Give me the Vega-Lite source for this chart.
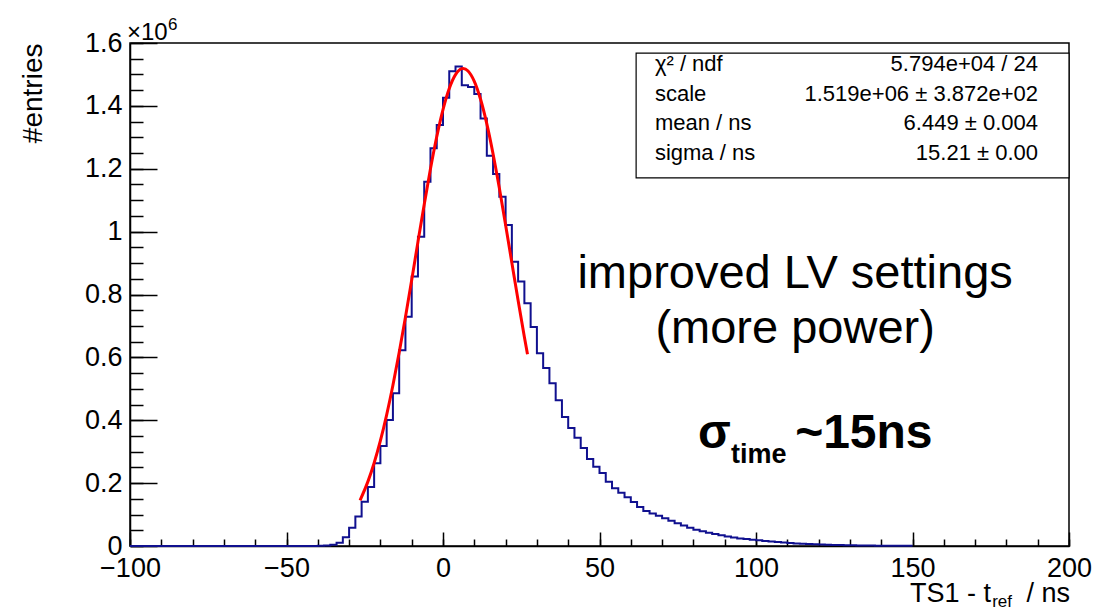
{
  "$schema": "https://vega.github.io/schema/vega-lite/v6.json",
  "width": 939,
  "height": 503,
  "autosize": {"type": "none"},
  "padding": {"left": 130, "top": 43, "right": 26, "bottom": 65},
  "background": "white",
  "data": {"values": [{}]},
  "config": {
    "font": "Liberation Sans",
    "view": {"stroke": "black", "strokeWidth": 1.5},
    "axis": {
      "grid": false,
      "domainColor": "black",
      "domainWidth": 1.5,
      "tickColor": "black",
      "tickWidth": 1.5,
      "labelColor": "black",
      "labelFont": "Liberation Sans",
      "titleFont": "Liberation Sans",
      "titleColor": "black",
      "labelFlush": false,
      "labelOverlap": false,
      "labelBound": false
    },
    "text": {"font": "Liberation Sans", "color": "black"}
  },
  "datasets": {
    "hist": [
      {"t": -100, "n": 0}, {"t": -98, "n": 0}, {"t": -96, "n": 0}, {"t": -94, "n": 0}, {"t": -92, "n": 0},
      {"t": -90, "n": 0}, {"t": -88, "n": 0}, {"t": -86, "n": 0}, {"t": -84, "n": 0}, {"t": -82, "n": 0},
      {"t": -80, "n": 0}, {"t": -78, "n": 0}, {"t": -76, "n": 0}, {"t": -74, "n": 0}, {"t": -72, "n": 0},
      {"t": -70, "n": 0}, {"t": -68, "n": 0}, {"t": -66, "n": 0}, {"t": -64, "n": 0}, {"t": -62, "n": 0},
      {"t": -60, "n": 0}, {"t": -58, "n": 0}, {"t": -56, "n": 0}, {"t": -54, "n": 0}, {"t": -52, "n": 0},
      {"t": -50, "n": 0}, {"t": -48, "n": 0}, {"t": -46, "n": 0}, {"t": -44, "n": 0}, {"t": -42, "n": 100},
      {"t": -40, "n": 500}, {"t": -38, "n": 1500}, {"t": -36, "n": 4000}, {"t": -34, "n": 10000}, {"t": -32, "n": 28000},
      {"t": -30, "n": 58000}, {"t": -28, "n": 94000}, {"t": -26, "n": 141000}, {"t": -24, "n": 188000}, {"t": -22, "n": 263000},
      {"t": -20, "n": 318000}, {"t": -18, "n": 401000}, {"t": -16, "n": 486000}, {"t": -14, "n": 623000}, {"t": -12, "n": 729000},
      {"t": -10, "n": 857000}, {"t": -8, "n": 984000}, {"t": -6, "n": 1159000}, {"t": -4, "n": 1265000}, {"t": -2, "n": 1339000},
      {"t": 0, "n": 1426000}, {"t": 2, "n": 1510000}, {"t": 4, "n": 1525000}, {"t": 6, "n": 1466000}, {"t": 8, "n": 1460000},
      {"t": 10, "n": 1438000}, {"t": 12, "n": 1360000}, {"t": 14, "n": 1241000}, {"t": 16, "n": 1183000}, {"t": 18, "n": 1111000},
      {"t": 20, "n": 1021000}, {"t": 22, "n": 904000}, {"t": 24, "n": 841000}, {"t": 26, "n": 772000}, {"t": 28, "n": 697000},
      {"t": 30, "n": 613000}, {"t": 32, "n": 566000}, {"t": 34, "n": 518000}, {"t": 36, "n": 464000}, {"t": 38, "n": 410000},
      {"t": 40, "n": 375000}, {"t": 42, "n": 344000}, {"t": 44, "n": 312000}, {"t": 46, "n": 277000}, {"t": 48, "n": 252000},
      {"t": 50, "n": 232000}, {"t": 52, "n": 204000}, {"t": 54, "n": 184000}, {"t": 56, "n": 169000}, {"t": 58, "n": 155000},
      {"t": 60, "n": 140000}, {"t": 62, "n": 124000}, {"t": 64, "n": 111000}, {"t": 66, "n": 103000}, {"t": 68, "n": 96000},
      {"t": 70, "n": 88000}, {"t": 72, "n": 80000}, {"t": 74, "n": 72000}, {"t": 76, "n": 65000}, {"t": 78, "n": 58000},
      {"t": 80, "n": 52000}, {"t": 82, "n": 47000}, {"t": 84, "n": 42000}, {"t": 86, "n": 38000}, {"t": 88, "n": 34000},
      {"t": 90, "n": 30000}, {"t": 92, "n": 27000}, {"t": 94, "n": 24000}, {"t": 96, "n": 22000}, {"t": 98, "n": 20000},
      {"t": 100, "n": 18000}, {"t": 102, "n": 16000}, {"t": 104, "n": 14000}, {"t": 106, "n": 12500}, {"t": 108, "n": 11000},
      {"t": 110, "n": 9500}, {"t": 112, "n": 8200}, {"t": 114, "n": 7000}, {"t": 116, "n": 6000}, {"t": 118, "n": 5200},
      {"t": 120, "n": 4500}, {"t": 122, "n": 3900}, {"t": 124, "n": 3300}, {"t": 126, "n": 2800}, {"t": 128, "n": 2400},
      {"t": 130, "n": 2000}, {"t": 132, "n": 1700}, {"t": 134, "n": 1500}, {"t": 136, "n": 1300}, {"t": 138, "n": 1100},
      {"t": 140, "n": 900}, {"t": 142, "n": 800}, {"t": 144, "n": 700}, {"t": 146, "n": 600}, {"t": 148, "n": 500},
      {"t": 150, "n": 500}
    ],
    "fit": [
      {"t": -26.5, "f": 145400}, {"t": -24, "f": 204800}, {"t": -22, "f": 264200}, {"t": -20, "f": 334900},
      {"t": -18, "f": 417300}, {"t": -16, "f": 511200}, {"t": -14, "f": 615300}, {"t": -12, "f": 727900},
      {"t": -10, "f": 846400}, {"t": -8, "f": 967400}, {"t": -6, "f": 1086600}, {"t": -4, "f": 1199700},
      {"t": -2, "f": 1301800}, {"t": 0, "f": 1388400}, {"t": 2, "f": 1455400}, {"t": 4, "f": 1499400},
      {"t": 6, "f": 1518300}, {"t": 6.449, "f": 1519000}, {"t": 8, "f": 1511100}, {"t": 10, "f": 1478200},
      {"t": 12, "f": 1421100}, {"t": 14, "f": 1342900}, {"t": 16, "f": 1247200}, {"t": 18, "f": 1138500},
      {"t": 20, "f": 1021400}, {"t": 22, "f": 900700}, {"t": 24, "f": 780600}, {"t": 26, "f": 664900},
      {"t": 27, "f": 609700}
    ]
  },
  "resolve": {"axis": {"x": "independent", "y": "independent"}},
  "layer": [
    {
      "data": {"name": "hist"},
      "mark": {"type": "line", "interpolate": "step-after", "color": "#10108f", "strokeWidth": 2},
      "encoding": {
        "x": {
          "field": "t", "type": "quantitative",
          "scale": {"domain": [-100, 200], "nice": false, "zero": false},
          "axis": {
            "orient": "bottom",
            "values": [-100, -50, 0, 50, 100, 150, 200],
            "tickSize": -14,
            "labelPadding": 23,
            "labelFontSize": 27,
            "labelAlign": "center",
            "labelBaseline": "top",
            "title": null
          }
        },
        "y": {
          "field": "n", "type": "quantitative",
          "scale": {"domain": [0, 1600000], "nice": false, "zero": true},
          "axis": {
            "orient": "left",
            "values": [0, 200000, 400000, 600000, 800000, 1000000, 1200000, 1400000, 1600000],
            "tickSize": -27,
            "labelPadding": 35,
            "labelFontSize": 27,
            "labelAlign": "right",
            "labelBaseline": "middle",
            "labelExpr": "format(datum.value / 1000000, '.1~f')",
            "title": "#entries",
            "titleFontSize": 28,
            "titleFontWeight": "normal",
            "titleAngle": 270,
            "titleX": -89,
            "titleY": 0,
            "titleAlign": "right",
            "titleBaseline": "alphabetic"
          }
        }
      }
    },
    {
      "data": {"name": "fit"},
      "mark": {"type": "line", "interpolate": "monotone", "color": "#ff0000", "strokeWidth": 3},
      "encoding": {
        "x": {
          "field": "t", "type": "quantitative",
          "axis": {
            "orient": "bottom",
            "values": [-100, -90, -80, -70, -60, -50, -40, -30, -20, -10, 0, 10, 20, 30, 40, 50, 60, 70, 80, 90, 100, 110, 120, 130, 140, 150, 160, 170, 180, 190, 200],
            "tickSize": -7,
            "labels": false,
            "domain": false,
            "title": null
          }
        },
        "y": {
          "field": "f", "type": "quantitative",
          "axis": {
            "orient": "left",
            "values": [0, 50000, 100000, 150000, 200000, 250000, 300000, 350000, 400000, 450000, 500000, 550000, 600000, 650000, 700000, 750000, 800000, 850000, 900000, 950000, 1000000, 1050000, 1100000, 1150000, 1200000, 1250000, 1300000, 1350000, 1400000, 1450000, 1500000, 1550000, 1600000],
            "tickSize": -13,
            "labels": false,
            "domain": false,
            "title": null
          }
        }
      }
    },
    {
      "mark": {"type": "rect", "fill": "white", "stroke": "black", "strokeWidth": 1.2},
      "encoding": {
        "x": {"datum": 61.7, "type": "quantitative", "axis": null},
        "x2": {"datum": 200},
        "y": {"datum": 1568000, "type": "quantitative", "axis": null},
        "y2": {"datum": 1171000}
      }
    },
    {
      "mark": {"type": "text", "align": "left", "baseline": "alphabetic", "fontSize": 22, "lineHeight": 29.7},
      "encoding": {
        "x": {"datum": 67.7, "type": "quantitative", "axis": null},
        "y": {"datum": 1511000, "type": "quantitative", "axis": null},
        "text": {"value": ["χ² / ndf", "scale", "mean / ns", "sigma / ns"]}
      }
    },
    {
      "mark": {"type": "text", "align": "right", "baseline": "alphabetic", "fontSize": 22, "lineHeight": 29.7},
      "encoding": {
        "x": {"datum": 190.1, "type": "quantitative", "axis": null},
        "y": {"datum": 1511000, "type": "quantitative", "axis": null},
        "text": {"value": ["5.794e+04 / 24", "1.519e+06 ± 3.872e+02", "6.449 ± 0.004", "15.21 ± 0.00"]}
      }
    },
    {
      "mark": {"type": "text", "align": "center", "baseline": "alphabetic", "fontSize": 47},
      "encoding": {
        "x": {"datum": 112.5, "type": "quantitative", "axis": null},
        "y": {"datum": 820000, "type": "quantitative", "axis": null},
        "text": {"value": "improved LV settings"}
      }
    },
    {
      "mark": {"type": "text", "align": "center", "baseline": "alphabetic", "fontSize": 47},
      "encoding": {
        "x": {"datum": 112.5, "type": "quantitative", "axis": null},
        "y": {"datum": 646000, "type": "quantitative", "axis": null},
        "text": {"value": "(more power)"}
      }
    },
    {
      "mark": {"type": "text", "align": "left", "baseline": "alphabetic", "fontSize": 48, "fontWeight": "bold"},
      "encoding": {
        "x": {"datum": 81.5, "type": "quantitative", "axis": null},
        "y": {"datum": 312000, "type": "quantitative", "axis": null},
        "text": {"value": "σ"}
      }
    },
    {
      "mark": {"type": "text", "align": "left", "baseline": "alphabetic", "fontSize": 27, "fontWeight": "bold"},
      "encoding": {
        "x": {"datum": 92, "type": "quantitative", "axis": null},
        "y": {"datum": 264000, "type": "quantitative", "axis": null},
        "text": {"value": "time"}
      }
    },
    {
      "mark": {"type": "text", "align": "left", "baseline": "alphabetic", "fontSize": 48, "fontWeight": "bold"},
      "encoding": {
        "x": {"datum": 112.5, "type": "quantitative", "axis": null},
        "y": {"datum": 312000, "type": "quantitative", "axis": null},
        "text": {"value": "~15ns"}
      }
    },
    {
      "mark": {"type": "text", "align": "right", "baseline": "alphabetic", "fontSize": 27, "dx": -78, "dy": 56},
      "encoding": {
        "x": {"datum": 200, "type": "quantitative", "axis": null},
        "y": {"datum": 0, "type": "quantitative", "axis": null},
        "text": {"value": "TS1 - t"}
      }
    },
    {
      "mark": {"type": "text", "align": "right", "baseline": "alphabetic", "fontSize": 17, "dx": -57, "dy": 61},
      "encoding": {
        "x": {"datum": 200, "type": "quantitative", "axis": null},
        "y": {"datum": 0, "type": "quantitative", "axis": null},
        "text": {"value": "ref"}
      }
    },
    {
      "mark": {"type": "text", "align": "right", "baseline": "alphabetic", "fontSize": 27, "dx": 1, "dy": 56},
      "encoding": {
        "x": {"datum": 200, "type": "quantitative", "axis": null},
        "y": {"datum": 0, "type": "quantitative", "axis": null},
        "text": {"value": "/ ns"}
      }
    },
    {
      "mark": {"type": "text", "align": "left", "baseline": "alphabetic", "fontSize": 24, "dx": -3, "dy": -3},
      "encoding": {
        "x": {"datum": -100, "type": "quantitative", "axis": null},
        "y": {"datum": 1600000, "type": "quantitative", "axis": null},
        "text": {"value": "×10"}
      }
    },
    {
      "mark": {"type": "text", "align": "left", "baseline": "alphabetic", "fontSize": 17, "dx": 38, "dy": -13},
      "encoding": {
        "x": {"datum": -100, "type": "quantitative", "axis": null},
        "y": {"datum": 1600000, "type": "quantitative", "axis": null},
        "text": {"value": "6"}
      }
    }
  ]
}
